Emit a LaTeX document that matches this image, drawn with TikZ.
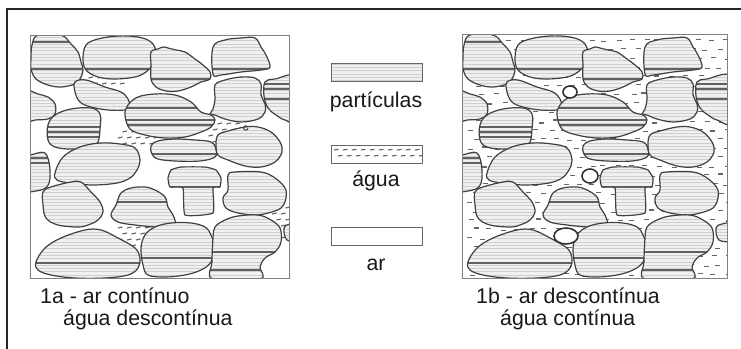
\documentclass[tikz,border=0pt]{standalone}
\usepackage{fontspec}
\setmainfont{Liberation Sans}

% one soil grain: outline points, then the y values of its darker seams
\newcommand\soilgrain[3][0.6]{%
  \begin{scope}
    \clip plot[smooth cycle,tension=#1] coordinates {#2};
    \fill[grainfill] (10,20) rectangle (310,290);
    \foreach \yy in {21,24.3,...,290} \draw[stripe] (10,\yy) -- (310,\yy);
    \foreach \yy in {#3} \draw[seam] (10,\yy) -- (310,\yy);
  \end{scope}
  \draw[grainedge] plot[smooth cycle,tension=#1] coordinates {#2};
}

% short slanted water marks filling a small pocket
\newcommand\wetpatch[4]{%
  \pgfmathsetmacro\wya{#2+6}%
  \pgfmathsetmacro\wxa{#1+9}%
  \foreach \yy [count=\k] in {#2,\wya,...,#4} {%
    \foreach \xx in {#1,\wxa,...,#3} {%
      \pgfmathsetmacro\px{\xx+mod(\k,2)*4.5}%
      \draw[wet] (\px,\yy) -- ++(4.5,-1);
    }%
  }%
}

% the common packing of grains in both panels
\newcommand\grainpacking{%
  \soilgrain{(38,35) (61,35) (71,44) (78,52) (81,62) (83,70) (80,79) (75,84) (61,87) (48,85) (36,79) (31,69) (31,59) (32,45)}{42,69}
  \soilgrain{(83,59) (86,45) (98,39) (118,36) (138,37) (151,42) (156,52) (153,64) (146,72) (135,77) (115,79) (98,77) (86,70)}{69}
  \soilgrain{(151,52) (158,49) (163,47) (168,48) (176,50) (185,52) (195,59) (203,65) (210,72) (210,79) (201,82) (191,87) (178,91) (166,91) (156,87) (151,79) (151,65)}{79}
  \soilgrain{(213,47) (225,40) (241,38) (255,38) (261,47) (266,55) (270,67) (261,70) (241,72) (221,75) (213,74)}{69}
  \soilgrain{(265,82) (275,79) (300,77) (300,122) (285,120) (276,115) (268,108) (264,96)}{84,89,99}
  \soilgrain{(20,90) (28,90) (38,94) (48,97) (55,104) (55,114) (48,119) (35,120) (20,122)}{-50}
  \soilgrain{(75,82) (86,80) (105,87) (121,92) (128,99) (130,107) (125,110) (108,110) (91,107) (80,102) (75,92)}{-50}
  \soilgrain{(125,115) (128,105) (138,97) (155,94) (175,95) (191,102) (201,112) (211,115) (215,120) (211,127) (201,132) (185,137) (165,138) (145,135) (130,129)}{108,120,125}
  \soilgrain{(48,125) (55,115) (71,109) (91,108) (100,114) (100,129) (98,142) (91,147) (71,149) (55,147) (48,140)}{127,132,137}
  \soilgrain{(215,85) (225,80) (241,77) (255,78) (261,84) (261,95) (265,104) (265,112) (258,119) (241,122) (225,119) (215,115) (210,114) (213,109) (215,99)}{-50}
  \soilgrain{(151,146) (158,141) (175,139) (195,140) (211,142) (216,149) (215,157) (200,161) (175,161) (158,159) (152,154)}{154}
  \soilgrain{(218,135) (228,131) (245,127) (258,127) (271,132) (280,142) (282,152) (275,162) (261,167) (245,166) (228,160) (218,155) (216,145)}{-50}
  \soilgrain{(20,155) (30,155) (45,153) (50,170) (47,187) (30,192) (20,193)}{158,163}
  \soilgrain{(55,173) (63,157) (80,147) (100,143) (120,144) (135,148) (140,160) (137,170) (130,178) (117,183) (93,185) (70,183) (57,180)}{-50}
  \soilgrain[0.25]{(168,178) (171,170) (181,167) (205,167) (216,170) (221,178) (220,187) (213,188) (213,213) (185,215) (183,188) (170,187)}{187}
  \soilgrain{(228,175) (235,172) (261,172) (275,178) (285,188) (286,198) (281,208) (268,213) (255,215) (238,213) (226,208) (223,198) (228,190)}{-50}
  \soilgrain{(43,192) (51,187) (71,182) (81,182) (91,192) (100,202) (103,212) (98,220) (88,225) (78,227) (58,225) (46,218) (43,205)}{-50}
  \soilgrain{(111,215) (116,205) (121,193) (131,188) (145,187) (155,190) (165,197) (168,207) (173,215) (175,223) (168,227) (155,227) (135,225) (118,222)}{202}
  \soilgrain{(284,228) (290,224) (300,224) (300,240) (287,240)}{-50}
  \soilgrain{(36,262) (45,248) (61,238) (85,230) (101,230) (118,238) (135,248) (140,258) (138,268) (128,275) (105,278) (75,278) (51,275) (38,270)}{263}
  \soilgrain{(141,248) (145,235) (155,227) (171,223) (191,223) (205,227) (211,235) (215,248) (211,262) (201,270) (185,275) (165,277) (148,275) (143,265)}{258}
  \soilgrain{(213,238) (215,227) (225,220) (238,216) (258,215) (271,220) (280,228) (281,242) (275,252) (265,258) (260,267) (260,279) (213,279) (212,262)}{252,270}
}

\begin{document}
\begin{tikzpicture}[x=1pt,y=-1pt,
  frame/.style={draw=black!85,line width=2pt},
  panel/.style={draw=black!50,line width=0.9pt},
  grainfill/.style={fill=black!6},
  grainedge/.style={draw=black!75,line width=1.2pt,line join=round},
  stripe/.style={draw=black!19,line width=0.8pt},
  seam/.style={draw=black!62,line width=1.6pt},
  wet/.style={draw=black!62,line width=1.1pt},
  wetline/.style={draw=black!60,line width=1.1pt},
  bubble/.style={draw=black!80,line width=1.6pt,fill=white},
  keybox/.style={draw=black!60,line width=0.9pt},
  caption/.style={font=\fontsize{21.3}{25}\selectfont,text=black!90,inner sep=0pt},
]
\useasboundingbox (0,0) rectangle (741,348);
\fill[white] (0,0) rectangle (741,348);
\draw[frame] (7,9) rectangle (760,370);

% ---- panel 1a: air continuous, water only in a few pockets
\begin{scope}
  \clip (30,35) rectangle (289,278);
  \wetpatch{84}{78}{120}{88}
  \wetpatch{118}{132}{160}{146}
  \wetpatch{204}{124}{236}{142}
  \wetpatch{118}{222}{170}{250}
  \wetpatch{272}{208}{292}{240}
  \grainpacking
  \draw[draw=black!75,line width=1pt] (248,128) arc (0:300:2.2);
\end{scope}
\draw[panel] (30,35) rectangle (289,278);

% ---- panel 1b: water continuous, air in isolated bubbles
\begin{scope}
  \clip (462,34) rectangle (727,278);
  \pgfmathsetseed{11}
  \foreach \r in {0,...,26} {%
    \foreach \c in {0,...,19} {%
      \pgfmathsetmacro\dx{462+3+\c*13.5+mod(\r,2)*6.5+rnd*5}
      \pgfmathsetmacro\dy{34+5+\r*9+rnd*3}
      \draw[wetline] (\dx,\dy) -- ++(5,0);
    }%
  }
  \begin{scope}[xshift=432pt]
    \grainpacking
  \end{scope}
  \draw[bubble] (570,92) ellipse (7 and 6);
  \draw[bubble] (590,176) ellipse (8 and 7);
  \draw[bubble] (566,236) ellipse (12 and 8);
\end{scope}
\draw[panel] (462,34) rectangle (727,278);

% ---- legend
\begin{scope}
  \clip (331,63) rectangle (422,81);
  \fill[grainfill] (331,63) rectangle (422,81);
  \foreach \yy in {64,67.3,...,81} \draw[stripe] (331,\yy) -- (422,\yy);
\end{scope}
\node[keybox,minimum width=91pt,minimum height=18pt,inner sep=0pt] (kgrain) at (376.5,72) {};
\node[caption,anchor=base] (lgrain) at (376,107) {partículas};

\begin{scope}
  \clip (331,145) rectangle (422,163);
  \foreach \yy/\off in {150/0,156/4} {%
    \foreach \xx in {334,343,...,420} \draw[wet] (\xx+\off,\yy) -- ++(4.5,-0.6);
  }
\end{scope}
\node[keybox,minimum width=91pt,minimum height=18pt,inner sep=0pt] (kwater) at (376.5,154) {};
\node[caption,anchor=base] (lwater) at (376,186) {água};

\node[keybox,minimum width=91pt,minimum height=18pt,inner sep=0pt] (kair) at (376.5,236) {};
\node[caption,anchor=base] (lair) at (376,270) {ar};

% ---- captions
\node[caption,anchor=base west] (c1a) at (40,303) {1a - ar contínuo};
\node[caption,anchor=base west] (c1aw) at (63,325) {água descontínua};
\node[caption,anchor=base west] (c1b) at (476,303) {1b - ar descontínua};
\node[caption,anchor=base west] (c1bw) at (500,325) {água contínua};
\end{tikzpicture}
\end{document}
